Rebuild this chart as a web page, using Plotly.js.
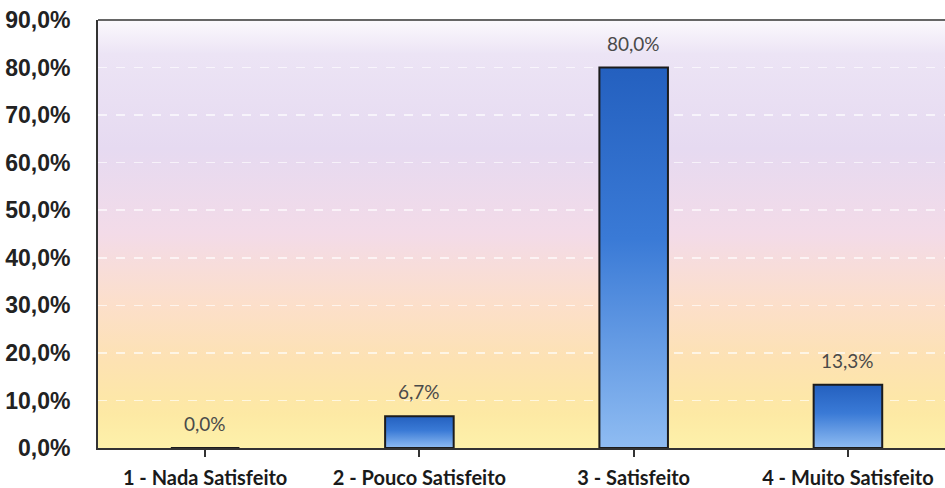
<!DOCTYPE html>
<html>
<head>
<meta charset="utf-8">
<script src="https://cdn.plot.ly/plotly-3.0.1.min.js"></script>
<style>
html,body{margin:0;padding:0;background:#fff;}
#chart{width:945px;height:488px;}
</style>
</head>
<body>
<div id="chart"></div>
<script>
// Data
var categories = ["1 - Nada Satisfeito", "2 - Pouco Satisfeito", "3 - Satisfeito", "4 - Muito Satisfeito"];
var values = [0.0, 6.7, 80.0, 13.3];
var valueLabels = ["0,0%", "6,7%", "80,0%", "13,3%"];
var yTickVals = [0, 10, 20, 30, 40, 50, 60, 70, 80, 90];
var yTickText = ["0,0%", "10,0%", "20,0%", "30,0%", "40,0%", "50,0%", "60,0%", "70,0%", "80,0%", "90,0%"];

var idx = categories.map(function(c, i){ return i; });

var bgSvg = '<svg xmlns="http://www.w3.org/2000/svg" width="100" height="100" preserveAspectRatio="none">' +
  '<defs><linearGradient id="g" x1="0" y1="0" x2="0" y2="1">' +
  '<stop offset="0" stop-color="#fbf9fd"/>' +
  '<stop offset="0.08" stop-color="#ece4f5"/>' +
  '<stop offset="0.3" stop-color="#e6daf1"/>' +
  '<stop offset="0.5" stop-color="#f3dbe8"/>' +
  '<stop offset="0.66" stop-color="#fcdfcb"/>' +
  '<stop offset="0.8" stop-color="#fde2b2"/>' +
  '<stop offset="0.92" stop-color="#fde9a4"/>' +
  '<stop offset="1" stop-color="#fdf1aa"/>' +
  '</linearGradient></defs><rect width="100" height="100" fill="url(#g)"/></svg>';
var bgUri = 'data:image/svg+xml;base64,' + btoa(bgSvg);

var trace = {
  type: 'bar',
  x: idx,
  y: values,
  width: 0.32,
  marker: { color: '#3d7fd6', line: { color: '#1c1c1c', width: 2 } },
  hoverinfo: 'skip'
};

var annotations = idx.map(function(i){
  return {
    x: i, y: values[i], xref: 'x', yref: 'y',
    text: valueLabels[i], showarrow: false,
    yanchor: 'bottom', yshift: 11,
    font: { family: 'Lato, "Open Sans", sans-serif', size: 19, color: '#4a4a4a' }
  };
});

var layout = {
  width: 945, height: 488,
  margin: { l: 98, r: 0, t: 20, b: 40 },
  paper_bgcolor: '#ffffff',
  plot_bgcolor: 'rgba(0,0,0,0)',
  separators: ',.',
  showlegend: false,
  bargap: 0,
  images: [{
    source: bgUri, xref: 'paper', yref: 'paper', x: 0, y: 1,
    sizex: 1, sizey: 1, sizing: 'stretch', layer: 'below',
    xanchor: 'left', yanchor: 'top'
  }],
  xaxis: {
    range: [-0.5, 3.453],
    tickvals: idx,
    ticktext: categories,
    tickson: 'boundaries',
    ticks: 'outside', ticklen: 7, tickwidth: 2, tickcolor: '#333',
    showline: true, linecolor: '#333', linewidth: 2,
    showgrid: false, zeroline: false,
    ticklabelstandoff: 4,
    tickfont: { family: 'Lato, "Open Sans", sans-serif', size: 20, color: '#1a1a1a', weight: 'bold' },
    fixedrange: true
  },
  yaxis: {
    range: [0, 90],
    tickvals: yTickVals,
    ticktext: yTickText,
    ticks: '',
    showline: true, linecolor: '#333', linewidth: 2,
    showgrid: true, gridcolor: 'rgba(255,255,255,0.65)', gridwidth: 1.5, griddash: 'dash',
    zeroline: false,
    ticklabelstandoff: 21,
    tickfont: { family: '"Liberation Sans", Arial, sans-serif', size: 23, color: '#222', weight: 'bold' },
    fixedrange: true
  },
  shapes: [{
    type: 'line', xref: 'paper', yref: 'paper', x0: 0, x1: 1, y0: 1, y1: 1,
    line: { color: '#666', width: 2 }
  }],
  annotations: annotations
};

Plotly.newPlot('chart', [trace], layout, { displayModeBar: false, staticPlot: true }).then(function(gd){
  var svg = gd.querySelector('svg.main-svg');
  var ns = 'http://www.w3.org/2000/svg';
  var defs = svg.querySelector('defs') || svg.insertBefore(document.createElementNS(ns, 'defs'), svg.firstChild);
  var lg = document.createElementNS(ns, 'linearGradient');
  lg.setAttribute('id', 'barGrad');
  lg.setAttribute('x1', '0'); lg.setAttribute('y1', '0');
  lg.setAttribute('x2', '0'); lg.setAttribute('y2', '1');
  [['0', '#2460bf'], ['0.45', '#3a7ad6'], ['1', '#8fbcf2']].forEach(function(s){
    var st = document.createElementNS(ns, 'stop');
    st.setAttribute('offset', s[0]); st.setAttribute('stop-color', s[1]);
    lg.appendChild(st);
  });
  defs.appendChild(lg);
  gd.querySelectorAll('.bars .point path').forEach(function(p){
    p.style.fill = 'url(#barGrad)';
  });
});
</script>
</body>
</html>
